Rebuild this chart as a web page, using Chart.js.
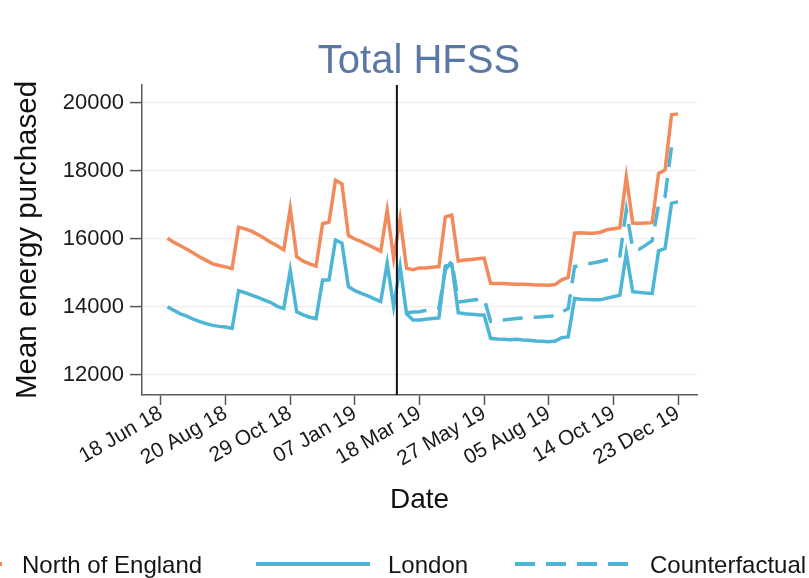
<!DOCTYPE html>
<html>
<head>
<meta charset="utf-8">
<script src="https://cdn.jsdelivr.net/npm/chart.js@4.4.1/dist/chart.umd.min.js"></script>
<style>
  html, body { margin: 0; padding: 0; background: #ffffff; }
  #wrap { width: 809px; height: 578px; position: relative; }
</style>
</head>
<body>
<div id="wrap"><canvas id="c" width="809" height="578"></canvas></div>
<script>
// Weekly series, week 0 = 18 Jun 18
const weeks = [1,2,3,4,5,6,7,8,9,10,11,12,13,14,15,16,17,18,19,20,
  21,22,23,24,25,26,27,28,29,30,31,32,33,34,35,36,37,38,39,40,
  41,42,43,44,45,46,47,48,49,50,51,52,53,54,55,56,57,58,59,60,
  61,62,63,64,65,66,67,68,69,70,71,72,73,74,75,76,77,78,79,80];

const northEngland = [16020,15900,15800,15700,15590,15470,15370,15270,15220,15180,
  15130,16350,16300,16230,16130,16020,15900,15800,15680,16900,
  15480,15350,15270,15200,16450,16500,17730,17620,16100,16000,
  15920,15830,15740,15640,16850,15430,16600,15140,15100,15150,
  15150,15170,15190,16650,16700,15350,15380,15400,15420,15440,
  14700,14690,14690,14680,14670,14670,14660,14650,14650,14640,
  14660,14800,14870,16170,16180,16170,16170,16200,16270,16300,
  16330,17830,16470,16460,16470,16480,17930,18030,19650,19680];

const london = [14010,13900,13800,13730,13640,13570,13510,13460,13430,13410,
  13370,14480,14420,14350,14280,14200,14130,14020,13960,15080,
  13860,13770,13700,13660,14790,14800,15970,15880,14600,14480,
  14400,14330,14240,14160,15290,14010,15190,13800,13620,13620,
  13640,13660,13680,15200,15250,13830,13800,13790,13770,13760,
  13080,13060,13050,13040,13050,13030,13020,13000,12990,12980,
  13000,13100,13120,14250,14230,14220,14210,14210,14260,14300,
  14350,15580,14450,14430,14410,14400,15650,15720,17050,17100];

const counterWeeks = [38,39,40,41,42,43,44,45,46,47,48,49,50,
  51,52,53,54,55,56,57,58,59,60,61,62,63,64,65,66,67,68,69,70,
  71,72,73,74,75,76,77,78,79,80];
const counterfactual = [13830,13850,13860,13900,13930,13960,15100,15350,14150,14170,14200,14220,14250,
  13580,13600,13620,13640,13660,13680,13690,13700,13710,13730,13740,13850,13950,15190,15230,15270,15300,15340,15390,15440,
  15500,16850,15700,15700,15820,15950,17000,17250,18720,18870];

const tickWeeks = [0,10,20,30,40,50,60,70,80];
const tickLabels = ['18 Jun 18','20 Aug 18','29 Oct 18','07 Jan 19','18 Mar 19',
  '27 May 19','05 Aug 19','14 Oct 19','23 Dec 19'];
const yTicks = [12000,14000,16000,18000,20000];
const policyWeek = 36.5;

const ORANGE = '#F38A5C';
const BLUE = '#4DB5D6';
const FONT = '"Liberation Sans", Arial, Helvetica, sans-serif';

const pairs = (xs, ys) => xs.map((x, i) => ({ x: x, y: ys[i] }));

// Title, policy marker and legend row
const decorations = {
  id: 'decorations',
  afterDatasetsDraw(chart) {
    const { ctx, chartArea, scales } = chart;
    const px = scales.x.getPixelForValue(policyWeek);
    ctx.save();
    ctx.strokeStyle = '#111111';
    ctx.lineWidth = 2;
    ctx.beginPath();
    ctx.moveTo(px, chartArea.top);
    ctx.lineTo(px, chartArea.bottom);
    ctx.stroke();
    ctx.restore();
  },
  afterDraw(chart) {
    const { ctx } = chart;
    ctx.save();
    ctx.fillStyle = '#5A78A6';
    ctx.font = '40px ' + FONT;
    ctx.textAlign = 'center';
    ctx.textBaseline = 'alphabetic';
    ctx.fillText('Total HFSS', 419, 73);

    const slots = [
      { x0: -112, x1: 2, tx: 22 },
      { x0: 256, x1: 370, tx: 388 },
      { x0: 515, x1: 630, tx: 650 }
    ];
    const ly = 564;
    chart.data.datasets.forEach((ds, i) => {
      const s = slots[i];
      ctx.strokeStyle = ds.borderColor;
      ctx.lineWidth = 4;
      ctx.setLineDash(ds.borderDash || []);
      ctx.beginPath();
      ctx.moveTo(s.x0, ly);
      ctx.lineTo(s.x1, ly);
      ctx.stroke();
      ctx.setLineDash([]);
      ctx.fillStyle = '#151515';
      ctx.font = '24px ' + FONT;
      ctx.textAlign = 'left';
      ctx.textBaseline = 'middle';
      ctx.fillText(ds.label, s.tx, ly + 2);
    });
    ctx.restore();
  }
};

new Chart(document.getElementById('c'), {
  type: 'line',
  data: {
    datasets: [
      { label: 'North of England', data: pairs(weeks, northEngland),
        borderColor: ORANGE, borderWidth: 3.5, pointRadius: 0, tension: 0 },
      { label: 'London', data: pairs(weeks, london),
        borderColor: BLUE, borderWidth: 3.5, pointRadius: 0, tension: 0 },
      { label: 'Counterfactual', data: pairs(counterWeeks, counterfactual),
        borderColor: BLUE, borderWidth: 3.5, borderDash: [20, 11], pointRadius: 0, tension: 0 }
    ]
  },
  options: {
    responsive: false,
    animation: false,
    devicePixelRatio: 1,
    layout: { padding: { left: 0, right: 112, top: 85, bottom: 0 } },
    plugins: { legend: { display: false }, title: { display: false }, tooltip: { enabled: false } },
    scales: {
      x: {
        type: 'linear',
        min: -2.94,
        max: 82.94,
        afterBuildTicks(axis) { axis.ticks = tickWeeks.map(v => ({ value: v })); },
        afterFit(axis) { axis.height = 183; },
        ticks: {
          autoSkip: false,
          minRotation: 30,
          maxRotation: 30,
          padding: -4,
          color: '#1a1a1a',
          font: { family: FONT, size: 21 },
          callback: (v, i) => tickLabels[i]
        },
        grid: { drawOnChartArea: false, drawTicks: true, tickLength: 10, tickColor: '#555555', tickWidth: 1.5 },
        border: { color: '#5a5a5a', width: 1.5 },
        title: { display: true, text: 'Date', color: '#111111',
          font: { family: FONT, size: 28 }, padding: { top: 0, bottom: 61 } }
      },
      y: {
        type: 'linear',
        min: 11412,
        max: 20529,
        afterBuildTicks(axis) { axis.ticks = yTicks.map(v => ({ value: v })); },
        afterFit(axis) { axis.width = 142; },
        ticks: {
          padding: 6,
          color: '#1a1a1a',
          font: { family: FONT, size: 22 },
          callback: v => String(v)
        },
        grid: { color: '#ededed', lineWidth: 1.2, drawTicks: true, tickLength: 12, tickColor: '#555555', tickWidth: 1.5 },
        border: { color: '#5a5a5a', width: 1.5 },
        title: { display: true, text: 'Mean energy purchased', color: '#111111',
          font: { family: FONT, size: 29.5 }, padding: { top: 10, bottom: 0 } }
      }
    }
  },
  plugins: [decorations]
});
</script>
</body>
</html>
